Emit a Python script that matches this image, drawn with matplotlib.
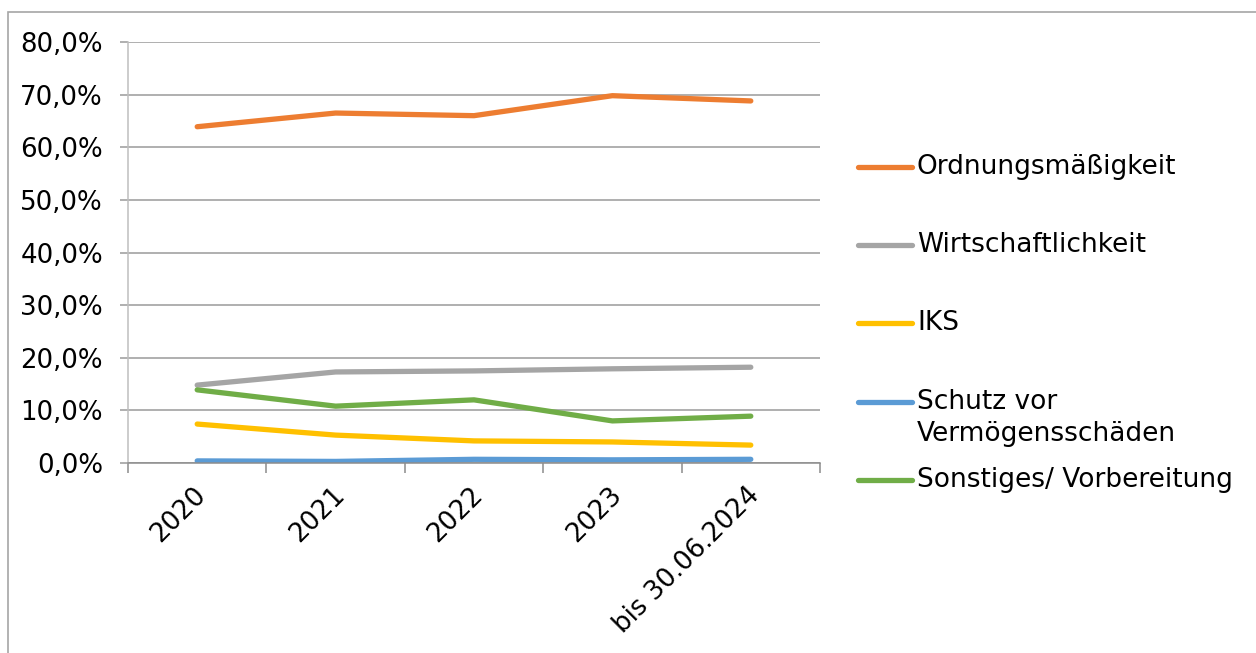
import matplotlib.pyplot as plt
from matplotlib.lines import Line2D
from matplotlib.patches import Rectangle
from matplotlib.ticker import FuncFormatter
from matplotlib.transforms import ScaledTranslation

categories = ['2020', '2021', '2022', '2023', 'bis 30.06.2024']
series_names = ['Ordnungsmäßigkeit', 'Wirtschaftlichkeit', 'IKS',
                'Schutz vor\nVermögensschäden', 'Sonstiges/ Vorbereitung']
ordnung = [63.9, 66.5, 66.0, 69.8, 68.8]
wirtschaft = [14.8, 17.3, 17.5, 17.9, 18.2]
iks = [7.4, 5.3, 4.2, 4.0, 3.4]
schutz = [0.4, 0.3, 0.7, 0.6, 0.7]
sonstiges = [13.9, 10.8, 12.0, 8.0, 8.9]
colors = ['#ED7D31', '#A5A5A5', '#FFC000', '#5B9BD5', '#70AD47']
yticks = [0, 10, 20, 30, 40, 50, 60, 70, 80]

W, H = 1256, 653
fig = plt.figure(figsize=(W / 100, H / 100), dpi=100)
plt.rcParams['font.family'] = 'DejaVu Sans'

# outer chart border (only left and top visible)
fig.patches.append(Rectangle((8 / W, -0.2), 2, 1 - 12 / H + 0.2, transform=fig.transFigure,
                             fill=False, edgecolor='#A6A6A6', linewidth=1.2))

ax = fig.add_axes([128 / W, 1 - 463 / H, (820 - 128) / W, (463 - 42) / H])

x = range(len(categories))
all_series = [ordnung, wirtschaft, iks, schutz, sonstiges]
for vals, c in zip(all_series, colors):
    ax.plot(x, vals, color=c, linewidth=3.8, solid_capstyle='round', solid_joinstyle='round')

ax.set_xlim(-0.5, len(categories) - 0.5)
ax.set_ylim(0, 80)
ax.set_yticks(yticks)
ax.yaxis.set_major_formatter(FuncFormatter(lambda v, p: f'{v:.1f}%'.replace('.', ',')))
ax.grid(axis='y', color='#9A9A9A', linewidth=1.1)
ax.set_axisbelow(True)

for s in ['top', 'right']:
    ax.spines[s].set_visible(False)
ax.spines['left'].set_color('#BFBFBF')
ax.spines['left'].set_linewidth(1.1)
ax.spines['bottom'].set_color('#8C8C8C')
ax.spines['bottom'].set_linewidth(1.1)

ax.tick_params(axis='y', length=6, width=1.1, color='#9A9A9A', pad=12, labelsize=18.7)
ax.set_xticks([i - 0.5 for i in range(len(categories) + 1)], minor=False)
ax.set_xticklabels([])
ax.set_xticks(list(x), minor=True)
ax.set_xticklabels(categories, minor=True, rotation=45, ha='right', va='top',
                   rotation_mode='anchor', fontsize=18.7)
ax.tick_params(axis='x', which='major', length=7, width=1.1, color='#8C8C8C')
ax.tick_params(axis='x', which='minor', length=0, pad=14)
shift = ScaledTranslation(-4 / 100, 0, fig.dpi_scale_trans)
for lbl in ax.get_xticklabels(minor=True):
    lbl.set_transform(lbl.get_transform() + shift)

# legend drawn manually to match spacing
for i, (name, c) in enumerate(zip(series_names, colors)):
    yp = 167 + 78.2 * i
    fig.add_artist(Line2D([858 / W, 912 / W], [1 - yp / H] * 2, color=c, linewidth=3.8,
                          solid_capstyle='round', transform=fig.transFigure))
    for j, line in enumerate(name.split('\n')):
        fig.text(917 / W, 1 - (yp + 7 + 32 * j) / H, line, fontsize=19,
                 va='baseline', ha='left')

fig.savefig('out.png', dpi=100)
